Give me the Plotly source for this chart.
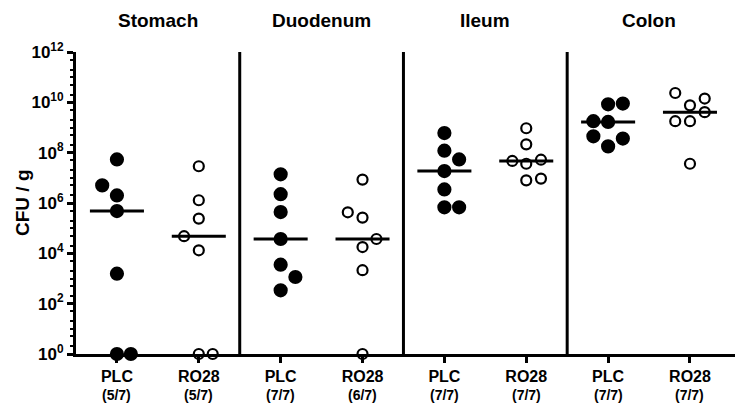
import numpy as np
import plotly.graph_objects as go

regions = ["Stomach", "Duodenum", "Ileum", "Colon"]
groups = ["PLC", "RO28"]
positive = [["5/7", "5/7"], ["7/7", "6/7"], ["7/7", "7/7"], ["7/7", "7/7"]]

# log10 CFU/g values (0 = below detection, plotted at 10^0)
stomach_plc = [7.73, 6.70, 6.30, 5.68, 3.19, 0.0, 0.0]
stomach_ro28 = [7.46, 6.11, 5.38, 4.68, 4.12, 0.0, 0.0]
duodenum_plc = [7.14, 6.35, 5.64, 4.57, 3.55, 3.06, 2.53]
duodenum_ro28 = [6.93, 5.63, 5.42, 4.57, 4.25, 3.33, 0.0]
ileum_plc = [8.78, 8.08, 7.73, 7.27, 6.54, 5.83, 5.83]
ileum_ro28 = [8.97, 8.33, 7.67, 7.56, 7.72, 6.90, 6.97]
colon_plc = [9.92, 9.95, 9.25, 9.22, 8.65, 8.56, 8.25]
colon_ro28 = [10.37, 10.15, 9.88, 9.61, 9.25, 9.25, 7.56]

series = [stomach_plc, stomach_ro28, duodenum_plc, duodenum_ro28,
          ileum_plc, ileum_ro28, colon_plc, colon_ro28]

# horizontal scatter offsets (layout only) so that overlapping points are visible
jitter = [
    [0, -0.18, 0, 0, 0, 0, 0.17],
    [0, 0, 0, -0.18, 0, 0, 0.17],
    [0, 0, 0, 0, 0, 0.18, 0],
    [0, -0.18, 0, 0.17, 0, 0, 0],
    [0, 0, 0.18, 0, 0, 0, 0.18],
    [0, 0, -0.17, 0, 0.18, 0, 0.18],
    [0, 0.18, -0.18, 0, -0.18, 0.18, 0],
    [-0.18, 0.18, 0, 0.18, -0.18, 0, 0],
]

FONT = "Liberation Sans, Arial, sans-serif"
fig = go.Figure()

for i, vals in enumerate(series):
    filled = (i % 2 == 0)
    xs = [i + j for j in jitter[i]]
    ys = [10 ** v for v in vals]
    fig.add_trace(go.Scatter(
        x=xs, y=ys, mode="markers", cliponaxis=False, showlegend=False,
        marker=dict(
            symbol="circle" if filled else "circle-open",
            size=12 if filled else 10,
            color="black",
            line=dict(color="black", width=2.2),
        ),
    ))
    med = 10 ** float(np.median(vals))
    fig.add_trace(go.Scatter(
        x=[i - 0.33, i + 0.33], y=[med, med], mode="lines", showlegend=False,
        line=dict(color="black", width=3), cliponaxis=False,
    ))

tickvals = list(range(len(series)))
ticktext = []
for r in range(len(regions)):
    for g in range(len(groups)):
        ticktext.append(f"<b>{groups[g]}</b>")

shapes = []
for k in range(1, len(regions)):
    shapes.append(dict(type="line", xref="x", yref="paper", x0=2 * k - 0.5, x1=2 * k - 0.5,
                       y0=0, y1=1, line=dict(color="black", width=3)))

annotations = []
for r, name in enumerate(regions):
    annotations.append(dict(x=2 * r + 0.5, y=1.0, xref="x", yref="paper", yshift=32,
                            yanchor="middle", text=f"<b>{name}</b>", showarrow=False,
                            font=dict(size=19, color="black", family=FONT)))
    for g in range(len(groups)):
        annotations.append(dict(x=2 * r + g, y=0, xref="x", yref="paper", yshift=-41,
                                yanchor="middle", text=f"<b>({positive[r][g]})</b>", showarrow=False,
                                font=dict(size=14, color="black", family=FONT)))

annotations.append(dict(x=0, y=0.5, xref="paper", yref="paper", xshift=-54, textangle=-90,
                        xanchor="center", yanchor="middle", text="<b>CFU / g</b>", showarrow=False,
                        font=dict(size=19, color="black", family=FONT)))

ytickvals = [10 ** e for e in range(0, 13, 2)]
yticktext = [f"<b>10<sup>{e}</sup></b>" for e in range(0, 13, 2)]

fig.update_layout(
    width=743, height=419,
    margin=dict(l=76, r=8, t=52, b=65),
    plot_bgcolor="white", paper_bgcolor="white",
    font=dict(family=FONT, color="black", size=14),
    shapes=shapes, annotations=annotations,
    xaxis=dict(
        range=[-0.5, 7.55], tickvals=tickvals, ticktext=ticktext, automargin=False,
        showgrid=False, zeroline=False, showline=True, linecolor="black", linewidth=3,
        ticks="outside", ticklen=6, tickwidth=3, tickcolor="black",
        tickfont=dict(size=16, family=FONT, color="black"),
    ),
    yaxis=dict(
        type="log", range=[0, 12], tickvals=ytickvals, ticktext=yticktext, automargin=False,
        showgrid=False, zeroline=False, showline=True, linecolor="black", linewidth=3,
        ticks="outside", ticklen=6, tickwidth=2.5, tickcolor="black",
        minor=dict(ticks="outside", ticklen=3, tickwidth=1.5, tickcolor="black", dtick="D2", showgrid=False),
        tickfont=dict(size=17, family=FONT, color="black"),
    ),
)

fig.write_html("out.html", config={"displayModeBar": False},
               post_script="document.body.style.margin='0';document.body.style.overflow='hidden';")
